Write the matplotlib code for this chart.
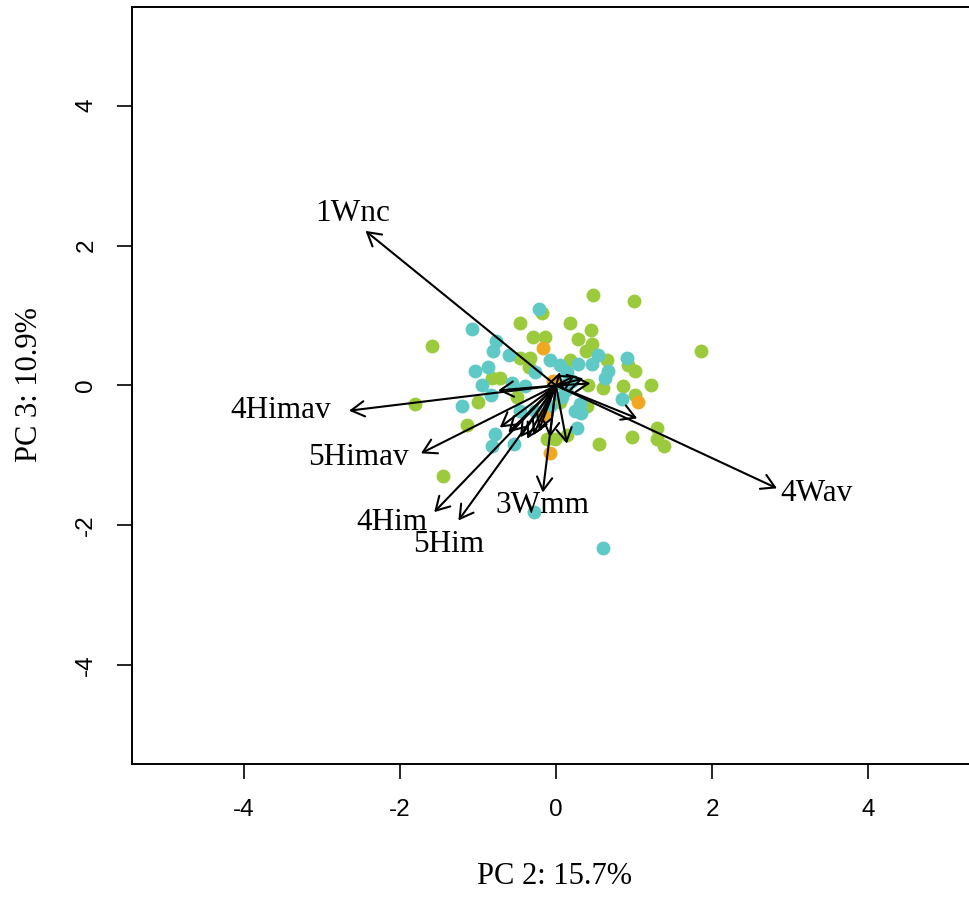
import matplotlib.pyplot as plt

plt.rcParams['axes.unicode_minus'] = False

# PC scores by group
green_x = [0.47, 1.00, 1.86, -1.59, -0.46, -0.18, 0.18, 0.45, 0.28, 0.46, 0.38, 0.65,
           0.92, 1.01, 0.18, 0.41, 0.60, 0.86, 1.22, 1.01, -0.29, -0.14, -0.46, -0.33,
           -0.35, -0.82, -0.72, -0.50, -1.00, 0.05, -1.14, -0.12, -0.01, 0.14, -1.45,
           0.40, 0.55, 0.97, 1.29, 1.29, 1.38, -1.80]
green_y = [1.29, 1.21, 0.50, 0.56, 0.89, 1.03, 0.89, 0.79, 0.67, 0.59, 0.49, 0.37,
           0.29, 0.21, 0.36, 0.00, -0.03, -0.01, 0.01, -0.14, 0.69, 0.69, 0.40, 0.39,
           0.26, 0.11, 0.11, -0.16, -0.24, -0.24, -0.56, -0.76, -0.76, -0.71, -1.30,
           -0.29, -0.83, -0.74, -0.61, -0.76, -0.87, -0.27]

teal_x = [-0.22, -1.07, -0.77, -0.81, -0.60, -0.08, -0.87, -1.04, -0.27, 0.05, 0.14,
          -0.56, -0.95, -0.40, -0.83, 0.54, 0.91, 0.28, 0.46, 0.67, 0.63, 0.09, 0.84,
          -1.20, -0.46, -0.27, -0.08, -0.78, -0.82, -0.54, -0.28, 0.08, 0.24, 0.31,
          0.32, 0.27, 0.60, 0.20, 0.13]
teal_y = [1.10, 0.81, 0.63, 0.49, 0.44, 0.36, 0.27, 0.20, 0.19, 0.29, 0.19, 0.04,
          0.01, -0.01, -0.13, 0.44, 0.39, 0.31, 0.31, 0.21, 0.10, 0.00, -0.19, -0.29,
          -0.36, -0.37, -0.29, -0.69, -0.87, -0.83, -1.81, -0.17, -0.36, -0.27, -0.40,
          -0.61, -2.33, 0.07, -0.07]

orange_x = [-0.17, -0.04, -0.15, -0.08, 1.05]
orange_y = [0.53, 0.07, -0.43, -0.96, -0.24]

# variable loadings (arrow tips)
var_names = ['1Wnc', '4Himav', '5Himav', '4Him', '5Him', '3Wmm', '4Wav']
var_x = [-2.44, -2.65, -1.73, -1.56, -1.25, -0.17, 2.83]
var_y = [2.21, -0.36, -0.97, -1.81, -1.93, -1.53, -1.47]
label_x = [-2.60, -3.53, -2.53, -2.10, -1.37, -0.17, 3.34]
label_y = [2.46, -0.36, -1.03, -1.96, -2.27, -1.71, -1.54]

# short unlabelled loadings near the origin
small_x = [1.04, 0.35, 0.24, 0.05, 0.44, 0.14, -0.08, -0.72, -0.61, -0.46, -0.37,
           -0.29, -0.22, -0.74]
small_y = [-0.47, 0.10, 0.14, 0.19, 0.03, -0.83, -0.74, -0.60, -0.67, -0.74, -0.76,
           -0.71, -0.64, -0.07]

fig = plt.figure(figsize=(9.7, 8.97), dpi=100)
ax = fig.add_axes([0.1361, 0.1483, 0.8742, 0.8439])

ax.scatter(green_x, green_y, s=100, color='#9BCB3C', linewidths=0, zorder=2)
ax.scatter(teal_x, teal_y, s=100, color='#5FC9C6', linewidths=0, zorder=2)
ax.scatter(orange_x, orange_y, s=100, color='#F0A823', linewidths=0, zorder=2)

arrow = dict(arrowstyle='->,head_length=0.95,head_width=0.55', lw=1.5,
             color='black', shrinkA=0, shrinkB=0, mutation_scale=10)
for x, y in zip(small_x + var_x, small_y + var_y):
    ax.annotate('', xy=(x, y), xytext=(0, 0), arrowprops=arrow, zorder=3)

for name, x, y in zip(var_names, label_x, label_y):
    ax.text(x, y, name, ha='center', va='center', fontsize=22.5,
            family='Liberation Serif', zorder=4)

ax.set_xlim(-5.43, 5.43)
ax.set_ylim(-5.41, 5.41)
ax.set_xticks([-4, -2, 0, 2, 4])
ax.set_yticks([-4, -2, 0, 2, 4])
ax.tick_params(length=11, width=1.2, pad=14, labelsize=17.5)
for lab in ax.get_xticklabels() + ax.get_yticklabels():
    lab.set_family('Liberation Sans')
for lab in ax.get_yticklabels():
    lab.set_rotation(90)
    lab.set_va('center')
for sp in ax.spines.values():
    sp.set_linewidth(1.4)

fig.text(555 / 970, 1 - 876 / 897, 'PC 2: 15.7%', ha='center', va='center',
         fontsize=22, family='Liberation Serif')
fig.text(30 / 970, 1 - 385 / 897, 'PC 3: 10.9%', ha='center', va='center',
         rotation=90, fontsize=22, family='Liberation Serif')

fig.savefig('out.png', dpi=100)
